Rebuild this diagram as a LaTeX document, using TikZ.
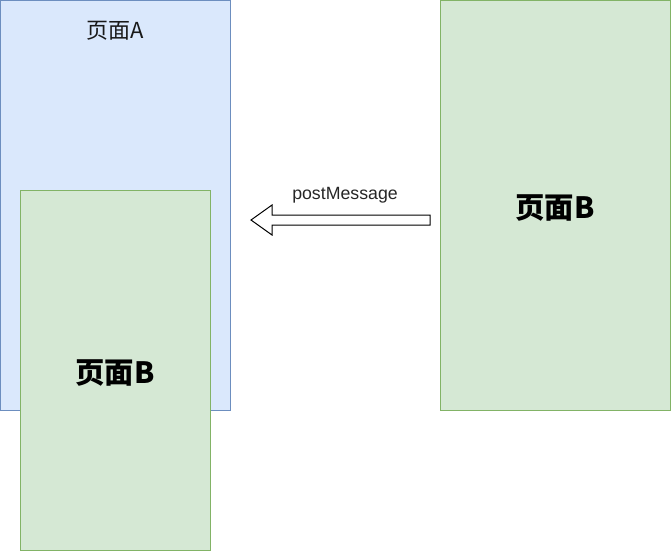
\documentclass[tikz,border=0pt]{standalone}
\usepackage{fontspec}
\setmainfont{Liberation Sans}
\newfontfamily\cjk{Noto Sans CJK SC}
\usetikzlibrary{positioning, calc}

\definecolor{blueFill}{HTML}{DAE8FC}
\definecolor{blueLine}{HTML}{6C8EBF}
\definecolor{greenFill}{HTML}{D5E8D4}
\definecolor{greenLine}{HTML}{82B366}

\begin{document}
\begin{tikzpicture}[x=0.75pt, y=-0.75pt,
    pageA/.style={draw=blueLine, fill=blueFill, line width=0.75pt, inner sep=0pt,
        minimum width=172.5pt, minimum height=307.5pt},
    pageB/.style={draw=greenLine, fill=greenFill, line width=0.75pt, inner sep=0pt,
        font=\cjk\bfseries\fontsize{22}{26}\selectfont},
    title/.style={font=\cjk\fontsize{16.5}{20}\selectfont, text=black!90, inner sep=0pt}]
    \useasboundingbox (0,0) rectangle (671,551);

    % left page with the embedded page
    \node[pageA] (outer) at (115,205) {};
    \node[title] (outerTitle) at ($(outer.north)+(0,31)$) {页面A};
    \node[pageB, minimum width=142.5pt, minimum height=270pt] (inner) at (115,370) {};
    \node[font=\cjk\bfseries\fontsize{22}{26}\selectfont, inner sep=0pt] (innerTitle) at (115,373) {页面B};

    % right page
    \node[pageB, minimum width=172.5pt, minimum height=307.5pt] (page) at (555,205) {};
    \node[font=\cjk\bfseries\fontsize{22}{26}\selectfont, inner sep=0pt] (pageTitle) at (555,208) {页面B};

    % message arrow
    \coordinate (msgStart) at (430,220);
    \coordinate (msgEnd) at (251,220);
    \draw[fill=white, line width=0.75pt, line join=miter]
        ($(msgStart)+(0,-5)$) -- (272,215) -- (272,205) -- (msgEnd)
        -- (272,235) -- (272,225) -- ($(msgStart)+(0,5)$) -- cycle;
    \node[font=\fontsize{13.3}{16}\selectfont, text=black!85] (msgLabel) at (345,195) {postMessage};
\end{tikzpicture}
\end{document}
